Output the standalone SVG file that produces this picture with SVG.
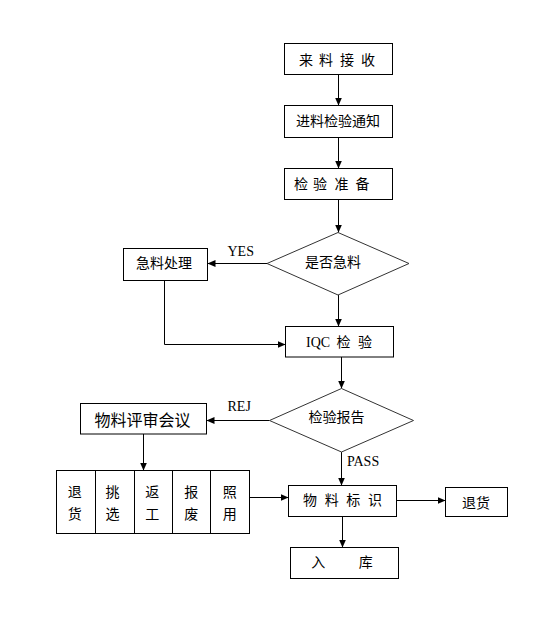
<svg xmlns="http://www.w3.org/2000/svg" width="552" height="631" viewBox="0 0 552 631">
<style>
.box{fill:#fff;stroke:#000;stroke-width:1}
.dia{fill:#fff;stroke:#333;stroke-width:1}
.cn{font-family:"Noto Sans CJK SC","Noto Sans",sans-serif;font-size:14px;fill:#000;text-anchor:middle}
.en{font-family:"Liberation Serif",serif;font-size:14px;fill:#000}
.ln{fill:none;stroke:#000;stroke-width:1;marker-end:url(#ah)}
</style>
<defs>
<marker id="ah" markerUnits="userSpaceOnUse" markerWidth="8" markerHeight="8" refX="8" refY="4" orient="auto">
<path d="M0,0.5 L8,4 L0,7.5 z" fill="#000"/>
</marker>
</defs>
<rect width="552" height="631" fill="#fff"/>
<g id="connectors">
<line class="ln" x1="338.5" y1="74.5" x2="338.5" y2="105.5"/>
<line class="ln" x1="338.5" y1="137.5" x2="338.5" y2="168.5"/>
<line class="ln" x1="338.5" y1="199.5" x2="338.5" y2="232.5"/>
<line class="ln" x1="267" y1="263.5" x2="207.5" y2="263.5"/>
<line class="ln" x1="338.5" y1="295" x2="338.5" y2="326.5"/>
<polyline class="ln" points="164.5,280.5 164.5,344.5 285.5,344.5"/>
<line class="ln" x1="341.5" y1="357" x2="341.5" y2="388.5"/>
<line class="ln" x1="269.5" y1="420.5" x2="206.5" y2="420.5"/>
<line class="ln" x1="143.5" y1="434" x2="143.5" y2="470.5"/>
<line class="ln" x1="249.5" y1="497.5" x2="288.5" y2="497.5"/>
<line class="ln" x1="341.5" y1="452" x2="341.5" y2="485.5"/>
<line class="ln" x1="396.5" y1="500.5" x2="445.5" y2="500.5"/>
<line class="ln" x1="342.5" y1="516.5" x2="342.5" y2="547.5"/>
</g>
<g id="n1"><rect class="box" x="284.5" y="43.5" width="108" height="31"/>
<text class="cn" x="306 326 347 368" y="65">来料接收</text></g>
<g id="n2"><rect class="box" x="284.5" y="105.5" width="108" height="32"/>
<text class="cn" x="338" y="126">进料检验通知</text></g>
<g id="n3"><rect class="box" x="284.5" y="168.5" width="108" height="31"/>
<text class="cn" x="301 320 341.5 362.5" y="189">检验准备</text></g>
<g id="d1"><polygon class="dia" points="338,232.5 409,263.5 338,295 267,263.5"/>
<text class="cn" x="333" y="267">是否急料</text></g>
<g id="n4"><rect class="box" x="123.5" y="248.5" width="84" height="32"/>
<text class="cn" x="164" y="268">急料处理</text></g>
<text class="en" x="227.5" y="255.5">YES</text>
<g id="n5"><rect class="box" x="285.5" y="326.5" width="108" height="30.5"/>
<text class="en" x="306" y="347">IQC</text>
<text class="cn" x="343.5 365" y="347">检验</text></g>
<g id="d2"><polygon class="dia" points="341.5,388.5 413.5,420.5 341.5,452 269.5,420.5"/>
<text class="cn" x="336.5" y="422">检验报告</text></g>
<g id="n6"><rect class="box" x="80.5" y="403.5" width="126" height="30.5"/>
<text class="cn" x="142.5" y="426" style="font-size:16px">物料评审会议</text></g>
<text class="en" x="227.5" y="411">REJ</text>
<g id="n7"><rect class="box" x="56.5" y="470.5" width="193" height="63"/>
<line stroke="#000" x1="95.5" y1="470.5" x2="95.5" y2="533.5"/>
<line stroke="#000" x1="134.5" y1="470.5" x2="134.5" y2="533.5"/>
<line stroke="#000" x1="172.5" y1="470.5" x2="172.5" y2="533.5"/>
<line stroke="#000" x1="210.5" y1="470.5" x2="210.5" y2="533.5"/>
<text class="cn" x="74.7 112.5 152.3 191.3 229.7" y="497">退挑返报照</text>
<text class="cn" x="74.7 112.5 152.3 191.3 229.7" y="518.5">货选工废用</text></g>
<text class="en" x="347" y="466">PASS</text>
<g id="n8"><rect class="box" x="288.5" y="485.5" width="108" height="31"/>
<text class="cn" x="310 331.7 353.3 375" y="505">物料标识</text></g>
<g id="n9"><rect class="box" x="445.5" y="487.5" width="62" height="29"/>
<text class="cn" x="476" y="507.5">退货</text></g>
<g id="n10"><rect class="box" x="290.5" y="547.5" width="108" height="31"/>
<text class="cn" x="318.3 365.7" y="567">入库</text></g>
</svg>
